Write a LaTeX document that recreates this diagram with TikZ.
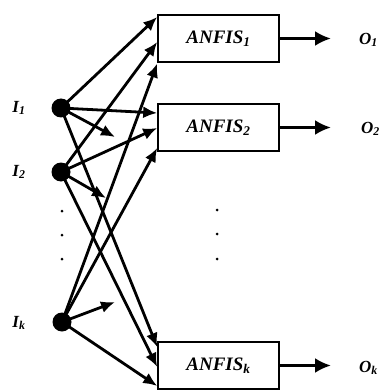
\documentclass[tikz,border=0pt]{standalone}
\usepackage{fontspec}
\setmainfont{Liberation Serif}
\usetikzlibrary{arrows.meta,calc}
\tikzset{
  anfis/.style={draw,line width=1.6pt,minimum width=121pt,minimum height=47pt,inner sep=0pt,
    font=\fontsize{19}{21}\selectfont\bfseries\itshape},
  inp/.style={circle,fill=black,minimum size=19pt,inner sep=0pt},
  conn/.style={line width=2.8pt,-{Latex[length=14pt,width=12pt]}},
  outarr/.style={line width=2.8pt,-{Latex[length=16pt,width=15pt]}},
  ilab/.style={font=\fontsize{17}{19}\selectfont\bfseries\itshape},
  olab/.style={font=\fontsize{17}{19}\selectfont\bfseries\itshape,anchor=west,inner sep=0pt},
  smalldot/.style={circle,fill=black,minimum size=3pt,inner sep=0pt}
}
\begin{document}
\begin{tikzpicture}[x=1pt,y=-1pt]
\useasboundingbox (0,0) rectangle (379,390);
% boxes
\node[anfis] (A1) at (218.5,38.5) {ANFIS\textsubscript{1}};
\node[anfis] (A2) at (218.5,127.5) {ANFIS\textsubscript{2}};
\node[anfis] (Ak) at (218.5,365.5) {ANFIS\textsubscript{k}};
% inputs
\node[inp] (I1) at (61,108) {};
\node[inp] (I2) at (61,172) {};
\node[inp] (Ik) at (62,322) {};
\node[ilab] (L1) at (19,108) {I\textsubscript{1}};
\node[ilab] (L2) at (19,172) {I\textsubscript{2}};
\node[ilab] (Lk) at (19,323) {I\textsubscript{k}};
% ellipsis dots
\node[smalldot] (d1) at (62,211) {};
\node[smalldot] (d2) at (62,235) {};
\node[smalldot] (d3) at (62,259) {};
\node[smalldot] (e1) at (217,210) {};
\node[smalldot] (e2) at (217,234) {};
\node[smalldot] (e3) at (217,259) {};
% target coordinates
\coordinate (a1a) at ([yshift=21.5pt]A1.west);
\coordinate (a1b) at ([yshift=-3.5pt]A1.west);
\coordinate (a1c) at ([yshift=-25pt]A1.west);
\coordinate (a2a) at ([yshift=14.5pt]A2.west);
\coordinate (a2b) at ([yshift=-0.5pt]A2.west);
\coordinate (a2c) at ([yshift=-20.5pt]A2.west);
\coordinate (aka) at ([yshift=18.5pt]Ak.west);
\coordinate (akb) at ([yshift=-1.5pt]Ak.west);
\coordinate (akc) at ([yshift=-20.5pt]Ak.west);
\coordinate (s1) at (115,137);
\coordinate (s2) at (106,198);
\coordinate (sk) at (115,302);
% connectors
\draw[conn] (I1.center) -- (a1a);
\draw[conn] (I1.center) -- (a2a);
\draw[conn] (I1.center) -- (s1);
\draw[conn] (I1.center) -- (aka);
\draw[conn] (I2.center) -- (a1b);
\draw[conn] (I2.center) -- (a2b);
\draw[conn] (I2.center) -- (s2);
\draw[conn] (I2.center) -- (akb);
\draw[conn] (Ik.center) -- (a1c);
\draw[conn] (Ik.center) -- (a2c);
\draw[conn] (Ik.center) -- (sk);
\draw[conn] (Ik.center) -- (akc);
% outputs
\coordinate (o1) at (331,38.5);
\coordinate (o2) at (331,127.5);
\coordinate (ok) at (331,365.5);
\draw[outarr] (A1.east) -- (o1);
\draw[outarr] (A2.east) -- (o2);
\draw[outarr] (Ak.east) -- (ok);
\node[olab] (O1) at (359,40) {O\textsubscript{1}};
\node[olab] (O2) at (361,129) {O\textsubscript{2}};
\node[olab] (Ok) at (359,368) {O\textsubscript{k}};
\end{tikzpicture}
\end{document}
